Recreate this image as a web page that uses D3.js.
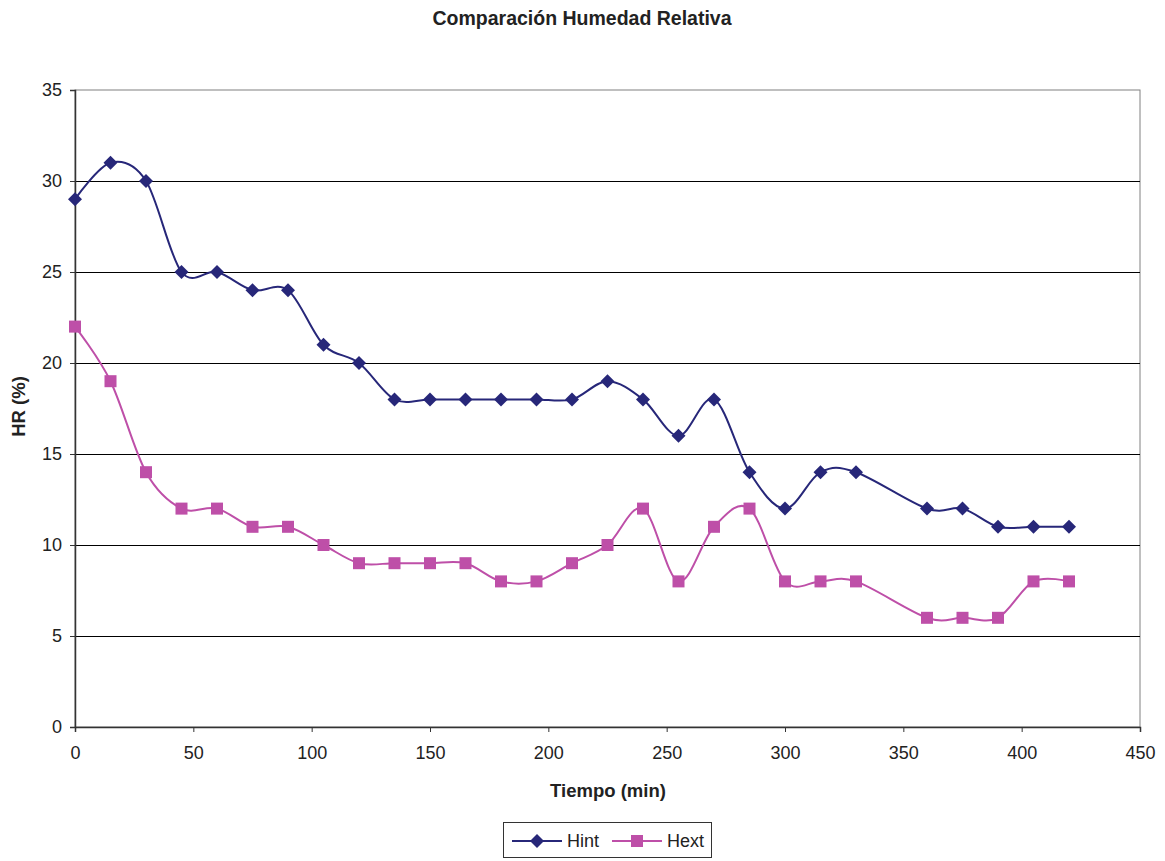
<!DOCTYPE html>
<html>
<head>
<meta charset="utf-8">
<script src="https://cdn.jsdelivr.net/npm/d3@7"></script>
<style>
  body { margin: 0; background: #fff; }
  svg { font-family: "Liberation Sans", Arial, sans-serif; }
</style>
</head>
<body>
<svg width="1165" height="861"></svg>
<script>
// Data
const tiempo = [0, 15, 30, 45, 60, 75, 90, 105, 120, 135, 150, 165, 180, 195, 210, 225, 240, 255, 270, 285, 300, 315, 330, 360, 375, 390, 405, 420];
const hint = [29, 31, 30, 25, 25, 24, 24, 21, 20, 18, 18, 18, 18, 18, 18, 19, 18, 16, 18, 14, 12, 14, 14, 12, 12, 11, 11, 11];
const hext = [22, 19, 14, 12, 12, 11, 11, 10, 9, 9, 9, 9, 8, 8, 9, 10, 12, 8, 11, 12, 8, 8, 8, 6, 6, 6, 8, 8];
const xTicks = [0, 50, 100, 150, 200, 250, 300, 350, 400, 450];
const yTicks = [0, 5, 10, 15, 20, 25, 30, 35];

const svg = d3.select("svg");
const margin = { top: 90, right: 25, bottom: 134, left: 75 };
const width = 1165 - margin.left - margin.right;
const height = 861 - margin.top - margin.bottom;

const x = d3.scaleLinear().domain([0, 450]).range([0, width]);
const y = d3.scaleLinear().domain([0, 35]).range([height, 0]);

const chart = svg.append("g")
    .attr("transform", `translate(${margin.left},${margin.top})`);

// plot frame (grey top/right)
chart.append("rect")
    .attr("x", 0).attr("y", 0)
    .attr("width", width).attr("height", height)
    .attr("fill", "none")
    .attr("stroke", "#808080")
    .attr("stroke-width", 1);

// gridlines
chart.selectAll(".grid")
    .data(yTicks.filter(d => d > 0 && d < 35))
    .enter().append("line")
    .attr("x1", 0).attr("x2", width)
    .attr("y1", d => Math.round(y(d)) + 0.5)
    .attr("y2", d => Math.round(y(d)) + 0.5)
    .attr("stroke", "#000")
    .attr("stroke-width", 1);

// axes
const xAxis = chart.append("g")
    .attr("transform", `translate(0,${height})`)
    .call(d3.axisBottom(x).tickValues(xTicks).tickSize(5).tickPadding(14));
const yAxis = chart.append("g")
    .call(d3.axisLeft(y).tickValues(yTicks).tickSize(5).tickPadding(8));

[xAxis, yAxis].forEach(a => {
    a.select(".domain").attr("stroke", "#333").attr("stroke-width", 1.5);
    a.selectAll(".tick line").attr("stroke", "#333");
    a.selectAll(".tick text")
        .attr("font-size", "18px")
        .attr("fill", "#222")
        .attr("font-family", "'Liberation Sans', Arial, sans-serif");
});

// title and axis labels
svg.append("text")
    .attr("x", 582).attr("y", 25)
    .attr("text-anchor", "middle")
    .attr("font-size", "19.5px").attr("font-weight", "bold")
    .attr("fill", "#222")
    .text("Comparación Humedad Relativa");

svg.append("text")
    .attr("x", 608).attr("y", 797)
    .attr("text-anchor", "middle")
    .attr("font-size", "18.5px").attr("font-weight", "bold")
    .attr("fill", "#222")
    .text("Tiempo (min)");

svg.append("text")
    .attr("transform", `translate(25,${margin.top + height / 2 - 2}) rotate(-90)`)
    .attr("text-anchor", "middle")
    .attr("font-size", "18.5px").attr("font-weight", "bold")
    .attr("fill", "#222")
    .text("HR (%)");

// series
const series = [
    { name: "Hint", values: hint, color: "#272779", marker: "diamond" },
    { name: "Hext", values: hext, color: "#BE4FA8", marker: "square" }
];

const line = d3.line()
    .x(d => x(d[0]))
    .y(d => y(d[1]))
    .curve(d3.curveCatmullRom.alpha(0));

function drawMarker(g, type, color, cx, cy) {
    if (type === "diamond") {
        g.append("path")
            .attr("d", `M${cx},${cy - 7}L${cx + 7},${cy}L${cx},${cy + 7}L${cx - 7},${cy}Z`)
            .attr("fill", color);
    } else {
        g.append("rect")
            .attr("x", cx - 6).attr("y", cy - 6)
            .attr("width", 12).attr("height", 12)
            .attr("fill", color);
    }
}

series.forEach(s => {
    const pts = tiempo.map((t, i) => [t, s.values[i]]);
    chart.append("path")
        .datum(pts)
        .attr("d", line)
        .attr("fill", "none")
        .attr("stroke", s.color)
        .attr("stroke-width", 2);
    const mg = chart.append("g");
    pts.forEach(p => drawMarker(mg, s.marker, s.color, x(p[0]), y(p[1])));
});

// legend
const legend = svg.append("g");
legend.append("rect")
    .attr("x", 503.5).attr("y", 822.5)
    .attr("width", 208).attr("height", 35)
    .attr("fill", "#fff")
    .attr("stroke", "#333").attr("stroke-width", 1);

series.forEach((s, i) => {
    const lx = 512 + i * 100;
    const ly = 841;
    legend.append("line")
        .attr("x1", lx).attr("x2", lx + 50)
        .attr("y1", ly).attr("y2", ly)
        .attr("stroke", s.color).attr("stroke-width", 2);
    drawMarker(legend, s.marker, s.color, lx + 25, ly);
    legend.append("text")
        .attr("x", lx + 55).attr("y", ly + 6)
        .attr("font-size", "18px")
        .attr("fill", "#222")
        .text(s.name);
});
</script>
</body>
</html>
